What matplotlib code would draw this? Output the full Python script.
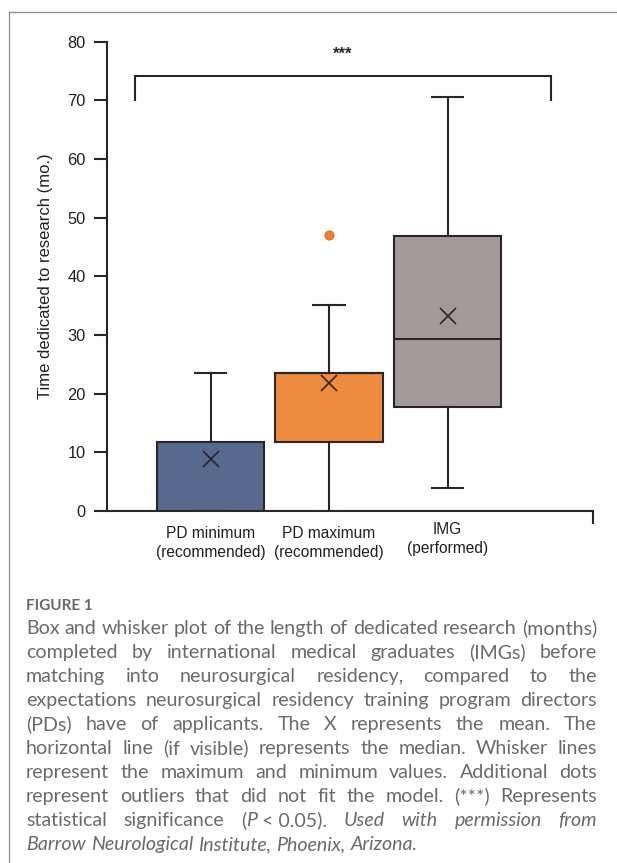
import numpy as np
import matplotlib
matplotlib.use('Agg')
from matplotlib import pyplot as plt
from matplotlib.lines import Line2D

# ---- data ----
categories = ['PD minimum\n(recommended)', 'PD maximum\n(recommended)', 'IMG\n(performed)']
box_min = [0.0, 0.0, 4.0]
box_q1 = [0.0, 11.8, 17.7]
box_median = [0.0, 23.5, 29.4]
box_q3 = [11.8, 23.5, 46.9]
box_max = [23.5, 35.1, 70.5]
box_mean = [8.8, 21.9, 33.2]
outliers = [[], [47.0], []]
y_ticks = [0, 10, 20, 30, 40, 50, 60, 70, 80]
sig_label = '***'

caption_head = 'FIGURE 1'
# each line: list of words, each word a list of (text, style) runs
caption_lines = [
    'Box and whisker plot of the length of dedicated research (months)',
    'completed by international medical graduates (IMGs) before',
    'matching into neurosurgical residency, compared to the',
    'expectations neurosurgical residency training program directors',
    '(PDs) have of applicants. The X represents the mean. The',
    'horizontal line (if visible) represents the median. Whisker lines',
    'represent the maximum and minimum values. Additional dots',
    'represent outliers that did not fit the model. (***) Represents',
]
line9 = [[('statistical', 'normal')], [('significance', 'normal')],
         [('(', 'normal'), ('P', 'italic'), (' < 0.05).', 'normal')],
         [('Used', 'italic')], [('with', 'italic')], [('permission', 'italic')], [('from', 'italic')]]
line10 = [[(w, 'italic')] for w in 'Barrow Neurological Institute, Phoenix, Arizona.'.split()]

# ---- style ----
box_colors = ['#576a8e', '#ee8b3e', '#a39b9a']
ink = '#2b2626'
W, H = 617, 863
fig = plt.figure(figsize=(W / 100, H / 100), dpi=100)
plt.rcParams['font.family'] = ['Liberation Sans', 'DejaVu Sans']

ax = fig.add_axes([106.7 / W, 1 - 511 / H, (593 - 106.7) / W, (511 - 41.7) / H])

stats = []
for i in range(len(categories)):
    stats.append(dict(label=categories[i], whislo=box_min[i], q1=box_q1[i], med=box_median[i],
                      q3=box_q3[i], whishi=box_max[i], mean=box_mean[i],
                      fliers=np.array(outliers[i])))
positions = [1, 2, 3]
bp = ax.bxp(stats, positions=positions, widths=0.91, patch_artist=True, showmeans=True,
            capwidths=0.27, manage_ticks=False,
            boxprops=dict(edgecolor=ink, linewidth=1.5),
            medianprops=dict(color=ink, linewidth=1.5),
            whiskerprops=dict(color=ink, linewidth=1.5),
            capprops=dict(color=ink, linewidth=1.5),
            meanprops=dict(marker='x', markersize=12, markeredgecolor=ink, markeredgewidth=1.2),
            flierprops=dict(marker='o', markersize=6.5, markerfacecolor='#ec7f33',
                            markeredgecolor='#d96f25', markeredgewidth=0.8))
for patch, c in zip(bp['boxes'], box_colors):
    patch.set_facecolor(c)

ax.set_xlim(1 - (210.5 - 106.7) / 118.5, 1 + (593 - 210.5) / 118.5)
ax.set_ylim(0, 80)
ax.set_yticks(y_ticks)
ax.tick_params(axis='y', length=9.2, width=1.5, color=ink, labelsize=11.8, pad=6, labelcolor='#231f20')
ax.set_xticks([])
ax.set_xticks([ax.get_xlim()[1]], minor=True)
ax.tick_params(axis='x', which='minor', length=9.4, width=1.5, color=ink, direction='out', labelbottom=False)
for s in ['top', 'right']:
    ax.spines[s].set_visible(False)
for s in ['left', 'bottom']:
    ax.spines[s].set_linewidth(1.5)
    ax.spines[s].set_color(ink)

ax.set_ylabel('Time dedicated to research (mo.)', fontsize=12, va='center', color='#231f20')
ax.yaxis.set_label_coords(-60.7 / 486.3, 0.5)

# category labels under the axis
label_drop = [11.0, 11.0, 8.0]
for p, lab, d in zip(positions, categories, label_drop):
    ax.annotate(lab, xy=(p, 0), xycoords=('data', 'axes fraction'), xytext=(0, -d),
                textcoords='offset points', ha='center', va='top', fontsize=11.2,
                linespacing=1.3, color='#231f20', annotation_clip=False)

# significance bracket
br_x0, br_x1, br_y, br_leg = 0.363, 3.873, 74.2, 70.1
ax.plot([br_x0, br_x0, br_x1, br_x1], [br_leg, br_y, br_y, br_leg], color=ink, lw=1.5,
        solid_joinstyle='miter', clip_on=False)
ax.text((br_x0 + br_x1) / 2, 77.9, sig_label, ha='center', va='center', fontsize=12,
        fontweight='bold', color=ink)

# outer frame (top and left edge)
fig.add_artist(Line2D([9 / W, 1], [1 - 12 / H, 1 - 12 / H], color='#8a8a8a', lw=0.9))
fig.add_artist(Line2D([9 / W, 9 / W], [0, 1 - 12 / H], color='#8a8a8a', lw=0.9))

# ---- caption, justified ----
cap_family = ['Lato', 'DejaVu Sans']
cap_color = '#6a6a6a'
cap_left, cap_right = 26 / W, 597 / W
fig.text(cap_left, 1 - 610 / H, caption_head, fontsize=11, fontweight='bold',
         family=cap_family, color='#666666', va='baseline', ha='left')

fig.canvas.draw()
renderer = fig.canvas.get_renderer()


def run_width(s, style, fs):
    t = fig.text(0, 0, s, fontsize=fs, family=cap_family, style=style)
    w = t.get_window_extent(renderer).width
    t.remove()
    return w / W


def word_width(word, fs):
    return sum(run_width(s, st, fs) for s, st in word)


words_lines = []
for ln in caption_lines:
    words_lines.append([[(w, 'normal')] for w in ln.split()])
words_lines.append(line9)
words_lines.append(line10)

base_fs = 12
space = run_width('a a', 'normal', base_fs) - 2 * run_width('a', 'normal', base_fs)
nat = sum(word_width(w, base_fs) for w in words_lines[0]) + space * (len(words_lines[0]) - 1)
cap_fs = base_fs * (cap_right - cap_left) / nat * 0.995
space = space * cap_fs / base_fs

for k, words in enumerate(words_lines):
    y = 1 - (634.0 + 24.0 * k) / H
    widths = [word_width(w, cap_fs) for w in words]
    if k < len(words_lines) - 1:
        gap = (cap_right - cap_left - sum(widths)) / (len(words) - 1)
    else:
        gap = space
    x = cap_left
    for w, ww in zip(words, widths):
        xx = x
        for s, st in w:
            fig.text(xx, y, s, fontsize=cap_fs, family=cap_family, style=st,
                     color=cap_color, va='baseline', ha='left')
            xx += run_width(s, st, cap_fs)
        x += ww + gap

fig.savefig('out.png', dpi=100)
